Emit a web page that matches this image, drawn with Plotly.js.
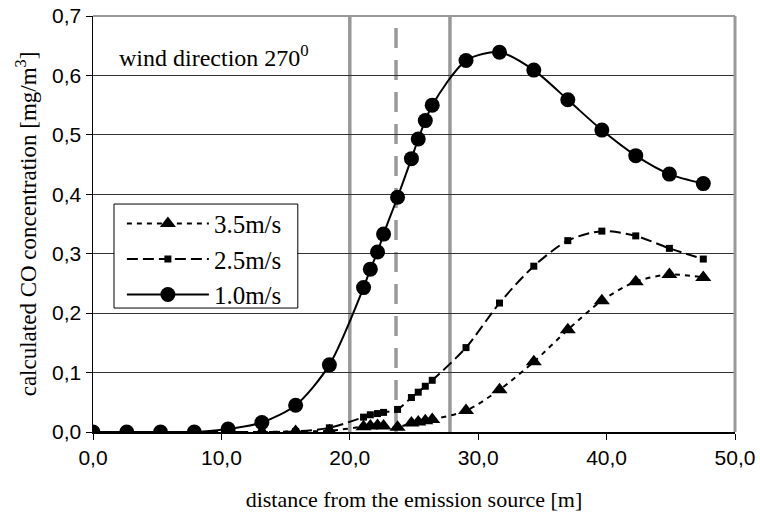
<!DOCTYPE html>
<html>
<head>
<meta charset="utf-8">
<script src="https://cdn.plot.ly/plotly-3.0.1.min.js"></script>
<style>html,body{margin:0;padding:0;background:#fff;}#chart{width:760px;height:516px;}</style>
</head>
<body>
<div id="chart"></div>
<script>
// distance from the emission source [m]
const distance = [0, 2.63, 5.26, 7.89, 10.52, 13.15, 15.78, 18.41, 21.07, 21.6, 22.16, 22.63, 23.72, 24.8, 25.33, 25.88, 26.42, 29.05, 31.66, 34.33, 36.98, 39.63, 42.27, 44.89, 47.53];
// calculated CO concentration [mg/m3]
const co35 = [0, 0, 0, 0, 0, 0, 0.001, 0.002, 0.009, 0.010, 0.011, 0.010, 0.008, 0.015, 0.017, 0.019, 0.021, 0.036, 0.071, 0.118, 0.172, 0.221, 0.253, 0.265, 0.260];
const co25 = [0, 0, 0, 0, 0, 0, 0.001, 0.007, 0.025, 0.029, 0.031, 0.033, 0.038, 0.058, 0.067, 0.077, 0.087, 0.142, 0.217, 0.279, 0.322, 0.338, 0.330, 0.309, 0.291];
const co10 = [0, 0, 0, 0, 0.005, 0.016, 0.045, 0.113, 0.243, 0.274, 0.303, 0.333, 0.395, 0.460, 0.493, 0.524, 0.550, 0.625, 0.639, 0.609, 0.559, 0.508, 0.465, 0.434, 0.418];
const seriesNames = ["3.5m/s", "2.5m/s", "1.0m/s"];
// vertical reference lines [m]
const solidMarkers = [20, 27.8];
const dashedMarkers = [23.6];
const xTicks = [0, 10, 20, 30, 40, 50];
const yTicks = [0, 0.1, 0.2, 0.3, 0.4, 0.5, 0.6, 0.7];

const serif = "Liberation Serif, Times New Roman, serif";
const sans = "Liberation Sans, Arial, sans-serif";

const traces = [
  {x: distance, y: co35, name: seriesNames[0], mode: "lines+markers",
   line: {color: "#000", width: 2, dash: "5px,5px", shape: "spline", smoothing: 0.8},
   marker: {symbol: "triangle-up", size: 14, color: "#000"}},
  {x: distance, y: co25, name: seriesNames[1], mode: "lines+markers",
   line: {color: "#000", width: 2, dash: "11px,5px", shape: "spline", smoothing: 0.8},
   marker: {symbol: "square", size: 7, color: "#000"}},
  {x: distance, y: co10, name: seriesNames[2], mode: "lines+markers",
   line: {color: "#000", width: 2, shape: "spline", smoothing: 0.8},
   marker: {symbol: "circle", size: 15, color: "#000"}}
];

const shapes = [];
solidMarkers.forEach(v => shapes.push({type: "line", xref: "x", yref: "paper", x0: v, x1: v, y0: 0, y1: 1,
  line: {color: "#999", width: 3.5}, layer: "below"}));
dashedMarkers.forEach(v => shapes.push({type: "line", xref: "x", yref: "paper", x0: v, x1: v, y0: 0, y1: 1,
  line: {color: "#999", width: 3.5, dash: "20px,12px"}, layer: "below"}));
// gray top and right frame
shapes.push({type: "line", xref: "paper", yref: "paper", x0: 0, x1: 1, y0: 1, y1: 1, line: {color: "#999", width: 2}});
shapes.push({type: "line", xref: "paper", yref: "paper", x0: 1, x1: 1, y0: 0, y1: 1, line: {color: "#999", width: 3}});
// legend frame
shapes.push({type: "rect", xref: "paper", yref: "paper", x0: 0.0327, x1: 0.319, y0: 0.298, y1: 0.548,
  fillcolor: "#fff", line: {color: "#000", width: 1}, layer: "above"});

const layout = {
  width: 760, height: 516,
  margin: {l: 93, r: 25, t: 16, b: 84},
  paper_bgcolor: "#fff", plot_bgcolor: "#fff",
  separators: ", ",
  showlegend: true,
  legend: {x: 0.045, y: 0.556, xanchor: "left", yanchor: "top",
    bgcolor: "rgba(0,0,0,0)", borderwidth: 0,
    font: {family: serif, size: 25, color: "#000"}, itemwidth: 82, tracegroupgap: 0},
  xaxis: {range: [0, 50], tickvals: xTicks, tickformat: ".1f", showgrid: false, zeroline: false,
    showline: true, linecolor: "#000", linewidth: 1.5, ticks: "outside", ticklen: 6, tickcolor: "#000",
    tickfont: {family: sans, size: 21, color: "#000"},
    title: {text: "distance from the emission source [m]", font: {family: serif, size: 22, color: "#000"}, standoff: 24}},
  yaxis: {range: [0, 0.7], tickvals: yTicks, tickformat: ".1f", showgrid: true, gridcolor: "#333", gridwidth: 1,
    zeroline: false, showline: true, linecolor: "#000", linewidth: 1.5, ticks: "outside", ticklen: 6, tickcolor: "#000",
    tickfont: {family: sans, size: 21, color: "#000"},
    title: {text: "calculated CO concentration [mg/m<sup>3</sup>]", font: {family: serif, size: 23, color: "#000"}, standoff: 9}},
  shapes: shapes,
  annotations: [{xref: "paper", yref: "paper", x: 0.037, y: 0.905, xanchor: "left", yanchor: "middle",
    text: "wind direction 270<sup>0</sup>", showarrow: false, font: {family: serif, size: 24, color: "#000"}}]
};

Plotly.newPlot("chart", traces, layout, {displayModeBar: false, staticPlot: true});
</script>
</body>
</html>
